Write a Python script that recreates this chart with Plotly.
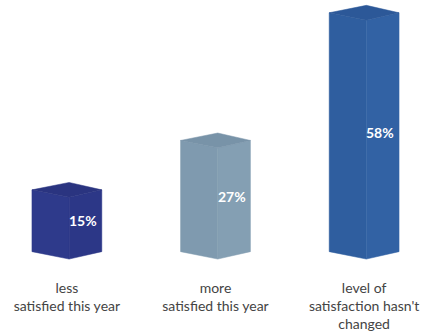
import plotly.graph_objects as go

categories = ["less<br>satisfied this year", "more<br>satisfied this year",
              "level of<br>satisfaction hasn't<br>changed"]
values = [15, 27, 58]
value_labels = ["15%", "27%", "58%"]

left_colors = ["#2e3a8b", "#7f9aaf", "#2f5e9f"]
right_colors = ["#2c3787", "#849fb3", "#3262a4"]
top_colors = ["#2a3480", "#7893a8", "#2c5898"]

half_w = 0.235
split = 0.015
depth = 1.8

fig = go.Figure()
xs = list(range(len(values)))

for i, v in enumerate(values):
    xl, xm, xr = i - half_w, i + split, i + half_w
    fig.add_trace(go.Scatter(
        x=[xl, xl, xm, xm, xl], y=[0, v, v - depth, -depth, 0],
        fill="toself", fillcolor=left_colors[i], mode="lines",
        line=dict(width=0.5, color=left_colors[i]), hoverinfo="skip", showlegend=False))
    fig.add_trace(go.Scatter(
        x=[xm, xm, xr, xr, xm], y=[-depth, v - depth, v, 0, -depth],
        fill="toself", fillcolor=right_colors[i], mode="lines",
        line=dict(width=0.5, color=right_colors[i]), hoverinfo="skip", showlegend=False))
    fig.add_trace(go.Scatter(
        x=[xl, xm, xr, xm, xl], y=[v, v + depth, v, v - depth, v],
        fill="toself", fillcolor=top_colors[i], mode="lines",
        line=dict(width=0.5, color=top_colors[i]), hoverinfo="skip", showlegend=False))
    fig.add_annotation(x=i + 0.11, y=v / 2, text="<b>" + value_labels[i] + "</b>",
                       showarrow=False, font=dict(family="Lato", size=14, color="white"))

fig.update_layout(
    width=435, height=332,
    margin=dict(l=0, r=4, t=0, b=63),
    plot_bgcolor="white", paper_bgcolor="white",
    xaxis=dict(range=[-0.45, 2.45], tickvals=xs, ticktext=categories,
               showgrid=False, zeroline=False, showline=False, ticks="",
               ticklabelstandoff=14,
               tickfont=dict(family="Lato", size=14, color="#444444")),
    yaxis=dict(range=[-3, 61.1], visible=False, showgrid=False, zeroline=False),
)

fig.write_html("out.html")
